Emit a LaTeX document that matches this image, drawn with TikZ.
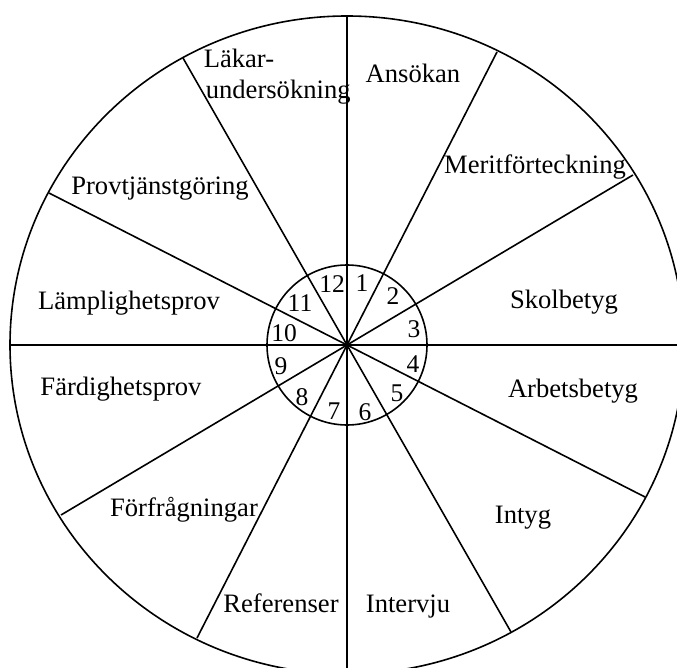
\documentclass[tikz,border=0pt]{standalone}
\usepackage{fontspec}
\setmainfont{Liberation Serif}
\begin{document}
\begin{tikzpicture}[x=1pt,y=-1pt,line width=1.6pt,
  lbl/.style={font=\fontsize{26.6}{31}\selectfont,inner sep=0pt,anchor=base},
  lblw/.style={font=\fontsize{26.6}{31}\selectfont,inner sep=0pt,anchor=base west},
  num/.style={font=\fontsize{25.5}{28}\selectfont,inner sep=0pt}]
\useasboundingbox (0,0) rectangle (677,668);
\clip (0,0) rectangle (677,668);
\coordinate (c) at (347,345);
% spoke ends
\coordinate (a1) at (497,52);  \coordinate (b1) at (197,638);
\coordinate (a2) at (633,175); \coordinate (b2) at (61,515);
\coordinate (a3) at (49,193);  \coordinate (b3) at (645,497);
\coordinate (a4) at (183,58);  \coordinate (b4) at (511,632);
\coordinate (a5) at (347,16);  \coordinate (b5) at (347,680);
\coordinate (a6) at (10,345);  \coordinate (b6) at (690,345);
\draw (c) ellipse [x radius=337,y radius=329];
\draw (c) circle [radius=80];
\foreach \i in {1,...,6} {\draw (a\i) -- (b\i);}
% numbers
\node[num] (n12) at (332,284) {12};
\node[num] (n1) at (362,283) {1};
\node[num] (n2) at (393,296) {2};
\node[num] (n3) at (414,329) {3};
\node[num] (n4) at (413,364) {4};
\node[num] (n5) at (397,393) {5};
\node[num] (n6) at (365,412) {6};
\node[num] (n7) at (334,411) {7};
\node[num] (n8) at (302,397) {8};
\node[num] (n9) at (281,366) {9};
\node[num] (n10) at (284,333) {10};
\node[num] (n11) at (300,303) {11};
% labels
\node[lbl] (l1) at (413,83) {Ansökan};
\node[lblw] (l12a) at (203,68) {Läkar-};
\node[lblw] (l12b) at (205,99) {undersökning};
\node[lbl] (l2) at (535,174) {Meritförteckning};
\node[lbl] (l3) at (564,308) {Skolbetyg};
\node[lbl] (l4) at (573,397) {Arbetsbetyg};
\node[lbl] (l5) at (523,523) {Intyg};
\node[lbl] (l6) at (408,612) {Intervju};
\node[lbl] (l7) at (281,612) {Referenser};
\node[lbl] (l8) at (184,516) {Förfrågningar};
\node[lbl] (l9) at (121,395) {Färdighetsprov};
\node[lbl] (l10) at (129,309) {Lämplighetsprov};
\node[lbl] (l11) at (160,195) {Provtjänstgöring};
\end{tikzpicture}
\end{document}
